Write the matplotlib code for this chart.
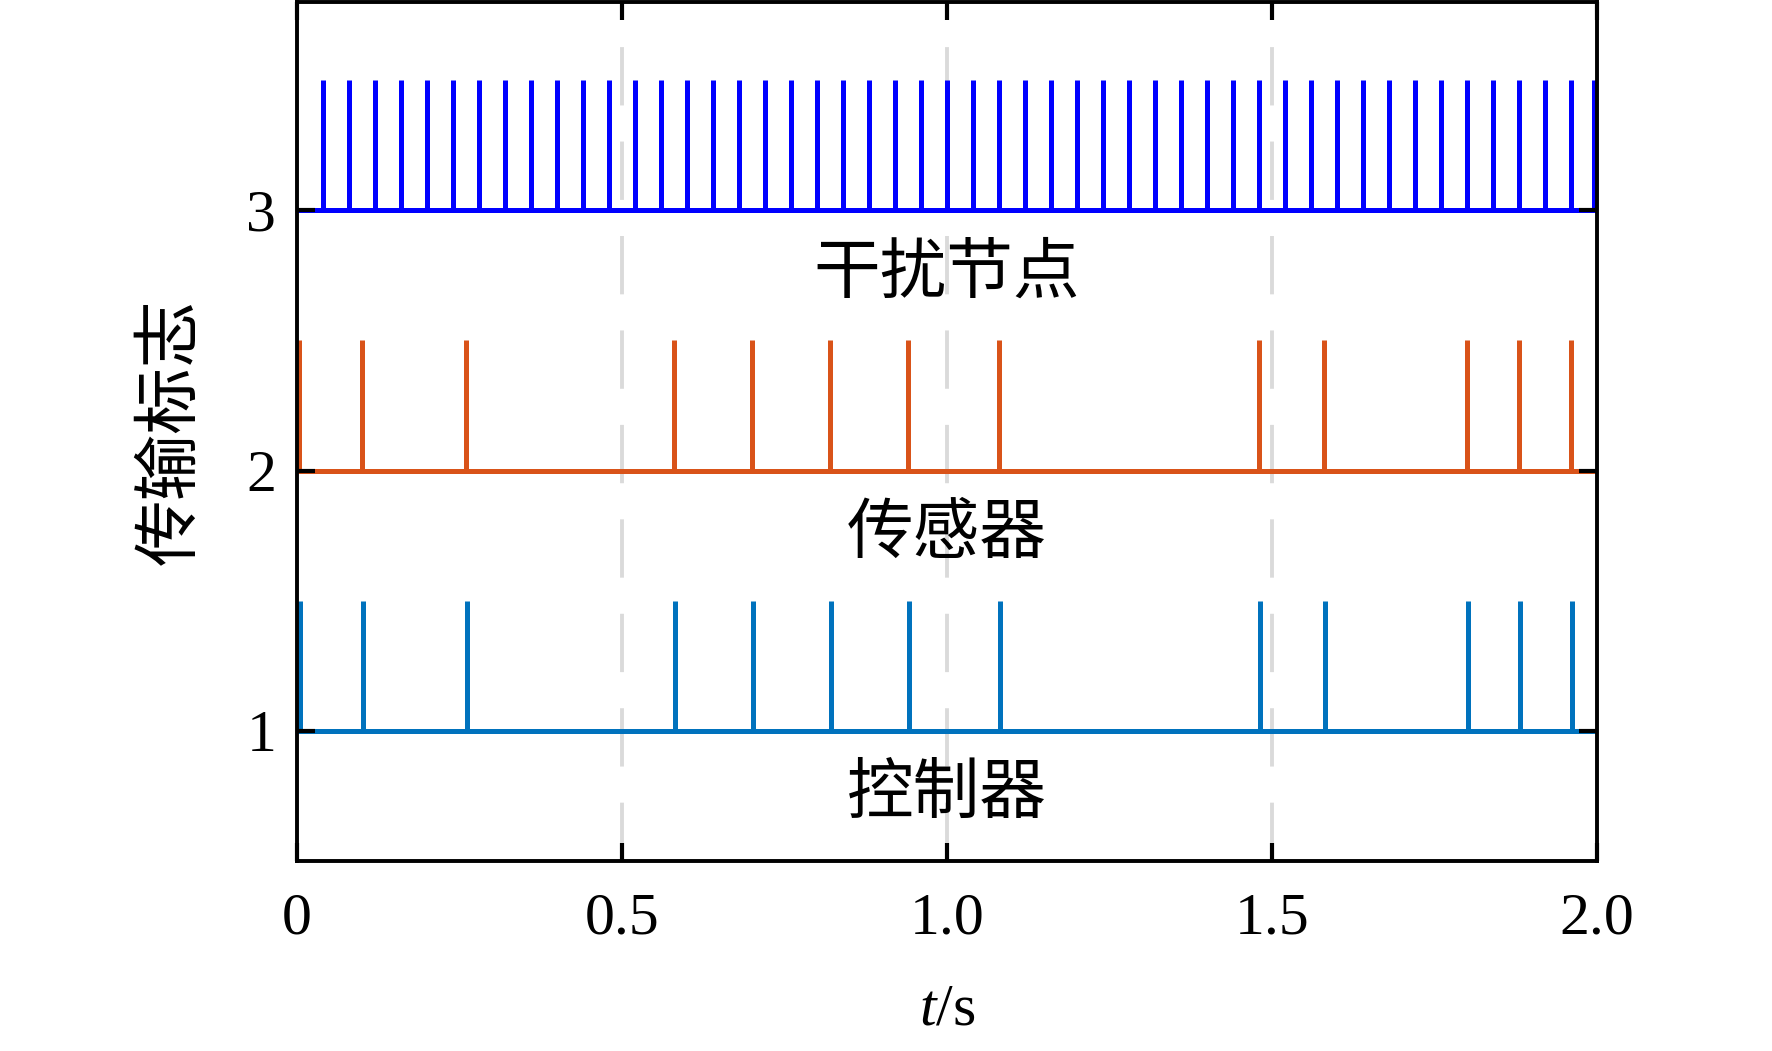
import matplotlib
matplotlib.use('Agg')
import matplotlib.pyplot as plt

plt.rcParams['font.family'] = ['Liberation Serif', 'Noto Sans CJK SC']
plt.rcParams['mathtext.fontset'] = 'custom'
plt.rcParams['mathtext.rm'] = 'Liberation Serif'
plt.rcParams['mathtext.it'] = 'Liberation Serif:italic'
plt.rcParams['lines.scale_dashes'] = False

# 传输时刻 (s)
disturb_times = [0.04, 0.08, 0.12, 0.16, 0.20, 0.24, 0.28, 0.32, 0.36, 0.40,
                 0.44, 0.48, 0.52, 0.56, 0.60, 0.64, 0.68, 0.72, 0.76, 0.80,
                 0.84, 0.88, 0.92, 0.96, 1.00, 1.04, 1.08, 1.12, 1.16, 1.20,
                 1.24, 1.28, 1.32, 1.36, 1.40, 1.44, 1.48, 1.52, 1.56, 1.60,
                 1.64, 1.68, 1.72, 1.76, 1.80, 1.84, 1.88, 1.92, 1.96, 1.996]
sensor_times = [0.003, 0.10, 0.26, 0.58, 0.70, 0.82, 0.94, 1.08, 1.48, 1.58,
                1.80, 1.88, 1.96]
controller_times = [0.005, 0.102, 0.262, 0.582, 0.702, 0.822, 0.942, 1.082,
                    1.482, 1.582, 1.802, 1.882, 1.962]

names = ['干扰节点', '传感器', '控制器']
levels = [3, 2, 1]
pulse = 0.5
colors = ['#0000FF', '#D95319', '#0072BD']
series = [disturb_times, sensor_times, controller_times]

fig = plt.figure(figsize=(17.72, 10.51), dpi=100)
ax = fig.add_axes([0.1676, 0.1808, 0.7336, 0.8172])

# 网格线
for g in [0.5, 1.0, 1.5]:
    ax.axvline(g, color='#DADADA', lw=2.8, ls=(0, (42, 26)), zorder=1)

lw = 3.6
for times, base, c, name in zip(series, levels, colors, names):
    ax.hlines(base, 0, 2.0, color=c, lw=lw, zorder=2)
    ax.vlines(times, base, base + pulse, color=c, lw=lw, zorder=2)
    ax.text(1.0, base - 0.245, name, ha='center', va='center', fontsize=48,
            family=['Noto Sans CJK SC'])

ax.set_xlim(0, 2.0)
ax.set_ylim(0.5, 3.8)
ax.set_xticks([0, 0.5, 1.0, 1.5, 2.0])
ax.set_xticklabels(['0', '0.5', '1.0', '1.5', '2.0'])
ax.set_yticks([1, 2, 3])
ax.set_axisbelow(False)
ax.tick_params(direction='in', length=13, width=3, top=True, right=True,
               labelsize=43)
ax.tick_params(axis='x', pad=23)
ax.tick_params(axis='y', pad=15)
for s in ax.spines.values():
    s.set_linewidth(2.8)

ax.set_xlabel('$t$/s', fontsize=43, labelpad=26)
ax.set_ylabel('传输标志', fontsize=48, family=['Noto Sans CJK SC'])
ax.yaxis.set_label_coords(-0.071, 0.5)

fig.savefig('out.png', dpi=100)
